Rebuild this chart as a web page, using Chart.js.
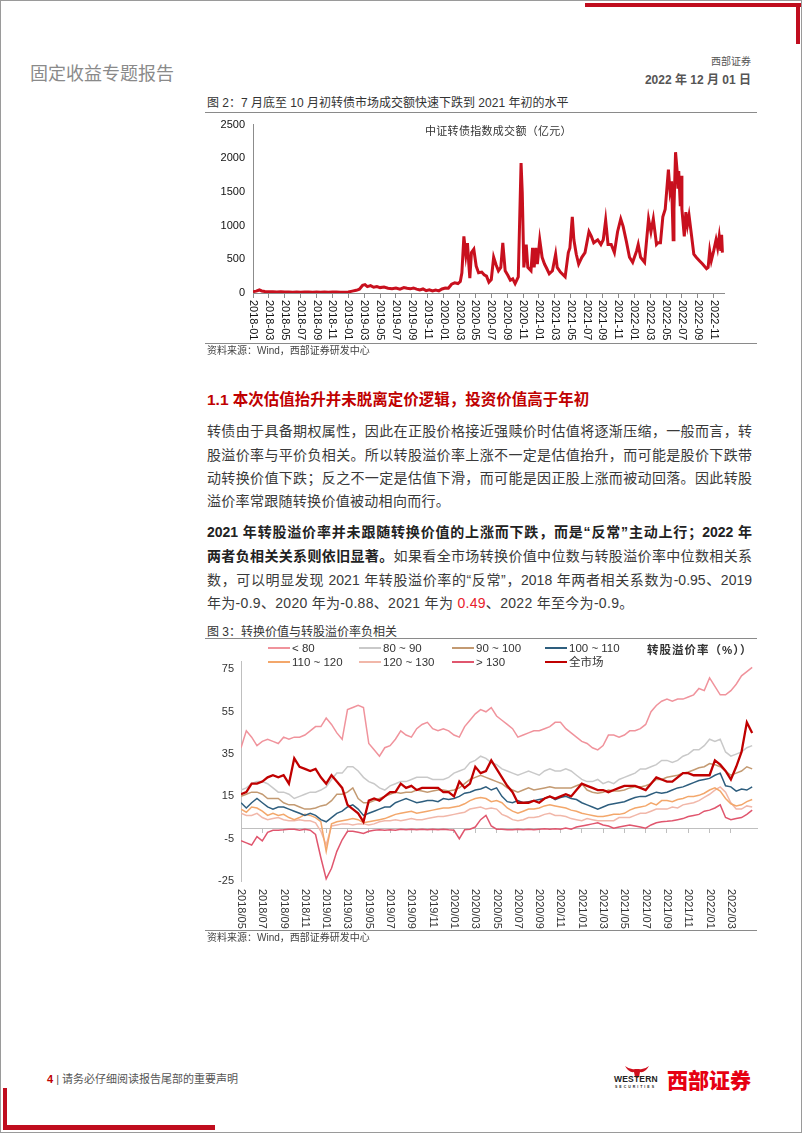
<!DOCTYPE html>
<html lang="zh-CN">
<head>
<meta charset="utf-8">
<script src="https://cdn.jsdelivr.net/npm/chart.js@4.4.0/dist/chart.umd.min.js"></script>
<style>
  html, body { margin: 0; padding: 0; background: #fff; }
  #page { position: relative; width: 802px; height: 1133px; overflow: hidden;
          font-family: "Liberation Sans", "Noto Sans CJK SC", sans-serif; color: #3a3a3a; }
  .frame { position: absolute; left: 0; top: 0; width: 802px; height: 1133px; box-sizing: border-box;
           border: 1px solid #9a9a9a; pointer-events: none; }
  .abs { position: absolute; white-space: nowrap; }
  .bar { position: absolute; background: #c00d1e; }
  .rule { position: absolute; left: 205px; width: 552px; height: 1px; background: #8a8a8a; }
  .cap { font-size: 12px; line-height: 16px; color: #333; }
  .src { font-size: 10px; line-height: 14px; color: #444; }
  .line { position: absolute; left: 207px; width: 545px; font-size: 14px; line-height: 20px;
          white-space: nowrap; text-align: justify; text-align-last: justify; color: #3a3a3a; }
  .line.last { text-align-last: left; letter-spacing: 0.3px; }
  .line b { font-weight: 700; color: #222; }
  canvas { position: absolute; }
  .leg { position: absolute; font-size: 11.5px; line-height: 13px; color: #333; white-space: nowrap; }
  .leg i { display: inline-block; width: 22px; height: 2px; vertical-align: middle; margin-right: 2px; position: relative; top: -1px; }
</style>
</head>
<body>
<div id="page">
  <div class="frame"></div>

  <!-- corner bars -->
  <div class="bar" style="left:585px; top:3px; width:216px; height:4px;"></div>
  <div class="bar" style="left:796px; top:3px; width:4px; height:41px;"></div>
  <div class="bar" style="left:3px; top:1088px; width:4px; height:42px;"></div>
  <div class="bar" style="left:3px; top:1125px; width:212px; height:5px;"></div>

  <!-- header -->
  <div class="abs" style="left:30px; top:62px; font-size:18px; line-height:24px; color:#8a8a8a;">固定收益专题报告</div>
  <div class="abs" style="right:51px; top:55px; font-size:10px; line-height:14px; color:#555;">西部证券</div>
  <div class="abs" style="right:51px; top:72px; font-size:12px; line-height:16px; color:#555; font-weight:700;">2022 年 12 月 01 日</div>

  <!-- figure 2 -->
  <div class="abs cap" style="left:207px; top:95px;">图 2：7 月底至 10 月初转债市场成交额快速下跌到 2021 年初的水平</div>
  <div class="rule" style="top:112px;"></div>
  <canvas id="volChart" width="540" height="240" style="left:205px; top:110px;"></canvas>
  <div class="abs" style="left:425px; top:123px; font-size:11px; line-height:16px; letter-spacing:0.3px; color:#333;">中证转债指数成交额（亿元）</div>
  <div class="rule" style="top:343px;"></div>
  <div class="abs src" style="left:207px; top:344px;">资料来源：Wind，西部证券研发中心</div>

  <!-- section text -->
  <div class="abs" style="left:207px; top:390px; font-size:15.5px; line-height:20px; font-weight:700; color:#c00000;">1.1 本次估值抬升并未脱离定价逻辑，投资价值高于年初</div>

  <div class="line" style="top:421px;">转债由于具备期权属性，因此在正股价格接近强赎价时估值将逐渐压缩，一般而言，转</div>
  <div class="line" style="top:445px;">股溢价率与平价负相关。所以转股溢价率上涨不一定是估值抬升，而可能是股价下跌带</div>
  <div class="line" style="top:468px;">动转换价值下跌；反之不一定是估值下滑，而可能是因正股上涨而被动回落。因此转股</div>
  <div class="line last" style="top:491px;">溢价率常跟随转换价值被动相向而行。</div>

  <div class="line" style="top:522px;"><b>2021 年转股溢价率并未跟随转换价值的上涨而下跌，而是“反常”主动上行；2022 年</b></div>
  <div class="line" style="top:546px;"><b>两者负相关关系则依旧显著。</b>如果看全市场转换价值中位数与转股溢价率中位数相关系</div>
  <div class="line" style="top:570px;">数，可以明显发现 2021 年转股溢价率的“反常”，2018 年两者相关系数为-0.95、2019</div>
  <div class="line last" style="top:593px;">年为-0.9、2020 年为-0.88、2021 年为 <span style="color:#e8202a;">0.49</span>、2022 年至今为-0.9。</div>

  <!-- figure 3 -->
  <div class="abs cap" style="left:207px; top:624px;">图 3：转换价值与转股溢价率负相关</div>
  <div class="rule" style="top:638px;"></div>
  <canvas id="premChart" width="556" height="300" style="left:205px; top:640px;"></canvas>
  <div id="premLegend"></div>
  <div class="abs" style="left:647px; top:642px; font-size:11.5px; line-height:16px; letter-spacing:1px; font-weight:700; color:#333;">转股溢价率（%））</div>
  <div class="rule" style="top:930px;"></div>
  <div class="abs src" style="left:207px; top:931px;">资料来源：Wind，西部证券研发中心</div>

  <!-- footer -->
  <div class="abs" style="left:47px; top:1071px; font-size:11px; line-height:16px; color:#555;"><span style="color:#c00000; font-weight:700;">4</span> | 请务必仔细阅读报告尾部的重要声明</div>
  <svg class="abs" style="left:625px; top:1066px;" width="24" height="12" viewBox="0 0 24 12">
    <path d="M0 0 Q4 7 9 6 L10 11 L12 12 L14 11 L15 6 Q20 7 24 0 Q19 4 14 3 L10 3 Q5 4 0 0 Z" fill="#d0101e"/>
  </svg>
  <div class="abs" style="left:614px; top:1074px; font-size:8.5px; line-height:10px; font-weight:700; color:#222; letter-spacing:0.2px;">WESTERN</div>
  <div class="abs" style="left:615px; top:1085px; font-size:3.5px; line-height:4px; font-weight:700; color:#222; letter-spacing:2px;">SECURITIES</div>
  <div class="abs" style="left:667px; top:1068px; font-size:21px; line-height:26px; font-weight:900; color:#e60012;">西部证券</div>
</div>

<script>
// ---- 图2 中证转债指数成交额（亿元） ----
// x = months since 2018-01
const volTickLabels = [
  '2018-01','2018-03','2018-05','2018-07','2018-09','2018-11',
  '2019-01','2019-03','2019-05','2019-07','2019-09','2019-11',
  '2020-01','2020-03','2020-05','2020-07','2020-09','2020-11',
  '2021-01','2021-03','2021-05','2021-07','2021-09','2021-11',
  '2022-01','2022-03','2022-05','2022-07','2022-09','2022-11'
];
const volTickMonths = volTickLabels.map((_, i) => i * 2);

const volMonths = [
  0, 0.4, 0.8, 1.1, 1.5, 2, 2.5, 3, 3.5, 4, 4.5, 5, 5.5, 6, 6.5, 7, 7.5, 8, 8.5, 9, 9.5, 10, 10.5, 11, 11.5,
  12, 12.5, 13, 13.4, 13.8, 14.1, 14.4, 14.8, 15.2, 15.6, 16, 16.5, 17, 17.5, 18, 18.5, 19, 19.4, 19.8,
  20.2, 20.6, 21, 21.4, 21.8, 22.2, 22.6, 23, 23.4, 23.8, 24.2, 24.6, 25, 25.4, 25.8, 26.1, 26.3, 26.55,
  26.8, 27.0, 27.2, 27.3, 27.5, 27.8, 28.1, 28.4, 28.8, 29.1, 29.4, 29.7, 30.0, 30.3, 30.6, 30.9, 31.2,
  31.45, 31.75, 32.1, 32.4, 32.7, 33.0, 33.4, 33.75, 33.9, 34.1, 34.4, 34.6, 35.0, 35.2, 35.4, 35.6, 35.8,
  36.1, 36.4, 36.7, 37.0, 37.3, 37.7, 38.1, 38.3, 38.7, 39.3, 39.7, 39.9, 40.2, 40.4, 40.7, 41.0, 41.4,
  41.8, 42.3, 42.6, 42.9, 43.4, 43.8, 44.1, 44.4, 44.7, 45.1, 45.5, 45.9, 46.3, 46.6, 47.0, 47.4, 47.8,
  48.3, 48.5, 48.8, 49.3, 49.8, 50.1, 50.4, 50.8, 51.0, 51.3, 51.6, 51.9, 52.3, 52.5, 52.7, 52.9, 53.0,
  53.2, 53.4, 53.5, 53.6, 53.8, 53.9, 54.0, 54.3, 54.5, 54.7, 54.9, 55.2, 55.5, 55.8, 56.2, 56.6, 57.1,
  57.3, 57.5, 57.7, 58.0, 58.3, 58.5, 58.7, 58.9, 59.0, 59.1
];
const volValues = [
  20, 28, 45, 30, 22, 18, 20, 15, 17, 14, 16, 13, 15, 12, 14, 15, 12, 14, 11, 13, 10, 14, 16, 10, 12,
  15, 28, 40, 55, 115, 125, 95, 110, 85, 95, 80, 88, 72, 65, 75, 58, 80, 70, 62,
  75, 58, 45, 60, 35, 48, 30, 45, 32, 60, 75, 70, 130, 150, 140, 170, 300, 840,
  560, 740, 380, 220, 600, 650, 400, 300, 310, 270, 250, 160, 200, 530, 420, 330, 380,
  745, 330, 260, 190, 210, 140, 240, 1930, 1490, 380, 720, 380, 330, 670, 380, 670, 430,
  790, 530, 430, 360, 285, 330, 575, 380, 310, 240, 600, 670, 1130, 790, 575, 430, 530,
  600, 910, 840, 745, 790, 720, 790, 1080, 720, 720, 600, 910, 1100, 990, 770, 530, 455,
  625, 720, 530, 455, 1100, 910, 1100, 720, 745, 745, 1130, 1245, 1830, 1520, 1660, 790, 1245,
  2090, 1810, 1550, 1810, 1290, 1740, 1245, 840, 1200, 1010, 1150, 865, 575, 530, 480, 430, 360,
  380, 625, 480, 625, 790, 670, 840, 625, 865, 600
];

// ---- 图3 转换价值与转股溢价率 ----
// x = months since 2018-05, half-month samples
const premTickLabels = [
  '2018/05','2018/07','2018/09','2018/11',
  '2019/01','2019/03','2019/05','2019/07','2019/09','2019/11',
  '2020/01','2020/03','2020/05','2020/07','2020/09','2020/11',
  '2021/01','2021/03','2021/05','2021/07','2021/09','2021/11',
  '2022/01','2022/03'
];
const premTickMonths = premTickLabels.map((_, i) => i * 2);
const premYTicks = [-25, -5, 15, 35, 55, 75];

const premLt80 = [
  38, 46, 43, 39, 41, 42, 41, 40, 43, 42, 43, 43, 44, 46, 48, 48, 52, 49, 45, 42,
  56, 57, 58, 57, 40, 37, 34, 38, 39, 42, 46, 44, 43, 47, 49, 50, 47, 46, 47, 46,
  44, 43, 48, 51, 54, 56, 55, 57, 53,
  51, 49, 47, 43, 44, 45, 46, 46, 47, 48, 50, 50, 47, 45, 43, 41, 40, 38, 37, 39,
  44, 44, 43, 44, 46, 46, 47, 49, 55, 58, 60, 61, 60, 61, 61, 62, 63, 66, 65, 71,
  67, 63, 63, 65, 68, 72, 74, 76
];
const prem80to90 = [
  18, 19, 21, 22, 22, 21, 19, 17, 17, 16, 14, 15, 16, 17, 17, 18, 19.5, 23, 26, 26,
  29, 29, 27, 24, 22, 21, 19, 18, 20, 21, 22, 22, 23, 24, 24, 24, 23, 23, 23, 24,
  26, 27, 28, 31, 32, 34, 33, 31, 30,
  28, 27, 26, 25, 26, 27, 26, 25, 27, 28, 27, 27, 28, 27, 25, 23, 22, 22, 23, 21,
  22, 21, 23, 24, 25, 26, 28, 28, 29, 30, 32, 32, 31, 32, 34, 35, 37, 37, 39, 42,
  41, 42, 36, 34, 35, 36, 38, 39
];
const prem90to100 = [
  15, 16, 17, 17, 16, 14, 14, 14, 12, 11, 11, 10, 9, 9, 9.5, 10.5, 11, 13, 16, 16,
  17, 19, 14, 12, 12, 13, 14, 15, 16, 17, 16.5, 17, 17, 18, 17.5, 17, 17.5, 18, 18, 17.5,
  18, 19, 21, 23, 24, 25, 24, 23, 22,
  21, 19, 18, 17, 18, 19, 18, 18.5, 19, 19.5, 19, 19, 19, 19, 20, 21, 18, 17, 16.5, 17,
  18, 17.5, 17.5, 18, 19, 19.5, 19.5, 20, 21, 23, 23, 24, 24.5, 25, 26, 26.5, 27.5, 28.5, 29, 30.5,
  30, 29, 27, 25, 26, 27, 29, 28
];
const prem100to110 = [
  12, 9.5, 12, 14, 12, 10, 9, 10, 10, 9, 8, 7, 6, 7, 6, 4, 3, 5, 7, 8,
  10, 11, 9, 6, 7, 8, 9, 10, 10, 12, 13, 14, 13, 12, 12.5, 13, 13, 12.5, 14, 13.5,
  14, 15, 16.5, 17, 18, 18.5, 19.5, 18, 19,
  15, 12.5, 12, 13, 12, 12.5, 13, 13.5, 14, 15, 13.5, 14.5, 15, 14, 13.5, 12, 11, 10, 9, 10,
  11, 11.5, 12, 12.5, 13.5, 14.5, 15, 15, 16, 17, 16.5, 17, 18, 19, 19.5, 20.5, 21.5, 22.5, 23, 23.5,
  25, 26, 20, 19.5, 17.5, 18.5, 18, 19.5
];
const prem110to120 = [
  9, 7.5, 10, 9.5, 8, 6, 7, 6, 6.5, 5, 4, 5, 6.5, 6, 5, 3, -11, 2, 3, 3.5,
  4, 4.5, 4, 2.5, 3, 3.5, 4, 4.5, 5.5, 6.5, 7, 7.5, 8, 7, 7.5, 8, 8.5, 9, 9.5, 9.5,
  10, 10.5, 11.5, 13, 14, 14.5, 14, 12.5, 13,
  12, 9.5, 8, 7, 8, 9, 9, 9.5, 10.5, 11, 10.5, 10, 9.5, 8.5, 8, 7, 6.5, 6, 5.5, 5.5,
  6, 6.5, 6.5, 7, 8.5, 9.5, 10, 10.5, 12, 11, 13, 13, 12.5, 13.5, 14, 15, 15, 15.5, 16.5, 18,
  19, 17.5, 14, 11.5, 10.5, 11, 12.5, 13.5
];
const prem120to130 = [
  7, 6, 6, 7, 5, 4, 4.5, 5, 4, 3.5, 3.5, 4, 3.5, 3.5, 2.5, -1.5, -8, 1, 1.5, 2,
  2, 1.5, 2, 2, 1.5, 2, 3, 3.5, 3.5, 4, 3.5, 4, 4.5, 4, 4, 4.5, 5, 5.5, 5.5, 6,
  6.5, 7, 7.5, 9, 9.5, 10, 9, 9.5, 9,
  6.5, 5.5, 4, 3.5, 4, 5, 5, 5.5, 6.5, 7, 6, 6, 5.5, 4.5, 4, 3.5, 4.5, 4, 3.5, 3.5,
  3.5, 3.5, 5, 5, 5, 6, 7, 7, 8, 9, 9, 9, 10, 9.5, 11, 11.5, 12, 13, 14.5, 16,
  18, 19.5, 17, 12, 9, 9, 10.5, 10
];
const premOver130 = [
  -6, -7, -8, -4, -6, -2, -1, -1, -0.8, -0.5, -0.5, -1, -0.5, -1, -3, -14, -24, -19, -11, -5.5,
  -1.5, -1.5, -2, -2.5, -1.5, -1, -0.8, -1, -0.8, -1, -0.5, -0.8, -0.5, -0.8, -0.5, -0.8, -0.5, -0.8, -0.5, -0.8,
  -1, -5, -0.8, -0.5, 0.5, 4, 6, 1, -0.5,
  -0.5, -0.8, -0.8, -0.5, -0.8, -0.5, -0.8, -0.5, -0.3, -0.5, -0.3, -0.5, 0, -0.5, 0.5, 1, 1.5, 2, 2.5, 1.5,
  1, 0, 0.5, 1, 1.5, 1, 0.5, 0, 1.5, 2.5, 3, 3.2, 3.5, 4, 4.5, 5.5, 6, 6.5, 8, 8.5,
  9.5, 11, 5, 4, 4.5, 5, 6.5, 8.5
];
const premMarket = [
  16, 17, 21, 21, 22, 24, 25, 24, 25, 21, 33, 29, 28, 27, 28, 24, 21, 25, 22, 19,
  11, 9, 7, 3, 13, 14, 13, 15, 17, 17, 21, 19, 20, 18, 19, 19, 19, 19, 17, 17,
  15, 22, 19, 21, 29, 26, 27, 32, 28,
  24, 20, 17, 12, 12, 12, 13, 12, 14, 15, 14, 15, 16, 15, 18, 21, 20, 19, 18, 18,
  17, 18, 19, 20, 20, 20, 19, 18, 21, 24, 23, 22, 22, 24, 26, 26, 25, 25, 25, 25,
  32, 30, 27, 23, 29, 36, 50, 45
];
const premMonths = premMarket.map((_, i) => i / 2);

const premNames  = ['< 80', '80 ~ 90', '90 ~ 100', '100 ~ 110', '110 ~ 120', '120 ~ 130', '> 130', '全市场'];
const premSeries = [premLt80, prem80to90, prem90to100, prem100to110, prem110to120, prem120to130, premOver130, premMarket];
const premColors = ['#F0939C', '#C9C9C9', '#C39A72', '#2E5E7E', '#F3A76B', '#F1B7A9', '#E0566E', '#C00000'];

// draws x tick labels turned 90deg clockwise, like the source charts
const vLabels = {
  id: 'vLabels',
  afterDraw(chart, args, opts) {
    const ctx = chart.ctx;
    const xs = chart.scales.x;
    const top = chart.chartArea.bottom + opts.gap;
    ctx.save();
    ctx.font = opts.font;
    ctx.fillStyle = opts.color;
    ctx.textAlign = 'left';
    ctx.textBaseline = 'middle';
    opts.labels.forEach((lab, i) => {
      ctx.save();
      ctx.translate(Math.round(xs.getPixelForValue(opts.values[i])), top);
      ctx.rotate(Math.PI / 2);
      ctx.fillText(lab, 0, 0);
      ctx.restore();
    });
    ctx.restore();
  }
};

const axisFont = { family: 'Liberation Sans', size: 11 };
const plainNum = v => String(v);

new Chart(document.getElementById('volChart'), {
  type: 'line',
  data: {
    datasets: [{
      data: volMonths.map((m, i) => ({ x: m, y: volValues[i] })),
      borderColor: '#C8101E', borderWidth: 3, pointRadius: 0, tension: 0
    }]
  },
  options: {
    responsive: false, animation: false, devicePixelRatio: 1,
    layout: { padding: { top: 10, right: 21, bottom: 52, left: 0 } },
    plugins: {
      legend: { display: false }, tooltip: { enabled: false },
      vLabels: { labels: volTickLabels, values: volTickMonths, gap: 7, font: '11px "Liberation Sans"', color: '#111' }
    },
    scales: {
      x: {
        type: 'linear', min: 0, max: 59.3,
        afterBuildTicks: s => { s.ticks = volTickMonths.map(v => ({ value: v })); },
        afterFit: s => { s.height = 5; },
        ticks: { display: false },
        grid: { drawOnChartArea: false, drawTicks: true, tickLength: 5, color: '#8c8c8c' },
        border: { color: '#8c8c8c' }
      },
      y: {
        min: 0, max: 2500,
        afterFit: s => { s.width = 48; },
        ticks: { stepSize: 500, color: '#111', font: axisFont, padding: 8, callback: plainNum },
        grid: { display: false, drawTicks: false },
        border: { color: '#8c8c8c' }
      }
    }
  },
  plugins: [vLabels]
});

new Chart(document.getElementById('premChart'), {
  type: 'line',
  data: {
    datasets: premSeries.map((vals, i) => ({
      label: premNames[i],
      data: vals.map((v, j) => ({ x: premMonths[j], y: v })),
      borderColor: premColors[i],
      borderWidth: premNames[i] === '全市场' ? 2.3 : 1.5,
      pointRadius: 0, tension: 0,
      order: premNames[i] === '全市场' ? 0 : i + 1
    }))
  },
  options: {
    responsive: false, animation: false, devicePixelRatio: 1,
    layout: { padding: { top: 21, right: 3.5, bottom: 59, left: 0 } },
    plugins: {
      legend: { display: false }, tooltip: { enabled: false },
      vLabels: { labels: premTickLabels, values: premTickMonths, gap: 8, font: '11px "Liberation Sans"', color: '#333' }
    },
    scales: {
      x: {
        type: 'linear', min: 0, max: 48.5, position: { y: 0 },
        afterBuildTicks: s => { s.ticks = premTickMonths.map(v => ({ value: v })); },
        ticks: { display: false },
        grid: { drawOnChartArea: false, drawTicks: true, tickLength: 4, color: '#bfbfbf' },
        border: { color: '#bfbfbf' }
      },
      y: {
        min: -25, max: 79,
        afterBuildTicks: s => { s.ticks = premYTicks.map(v => ({ value: v })); },
        afterFit: s => { s.width = 36; },
        ticks: { color: '#333', font: axisFont, padding: 7, callback: plainNum },
        grid: { display: false, drawTicks: false },
        border: { color: '#bfbfbf' }
      }
    }
  },
  plugins: [vLabels]
});

// legend, 4 per row like the source
const legCols = [268, 359, 452, 545];
const legRows = [642, 656];
document.getElementById('premLegend').innerHTML = premNames.map((n, i) =>
  `<div class="leg" style="left:${legCols[i % 4]}px; top:${legRows[Math.floor(i / 4)]}px;">` +
  `<i style="background:${premColors[i]}"></i>${n}</div>`
).join('');
</script>
</body>
</html>
